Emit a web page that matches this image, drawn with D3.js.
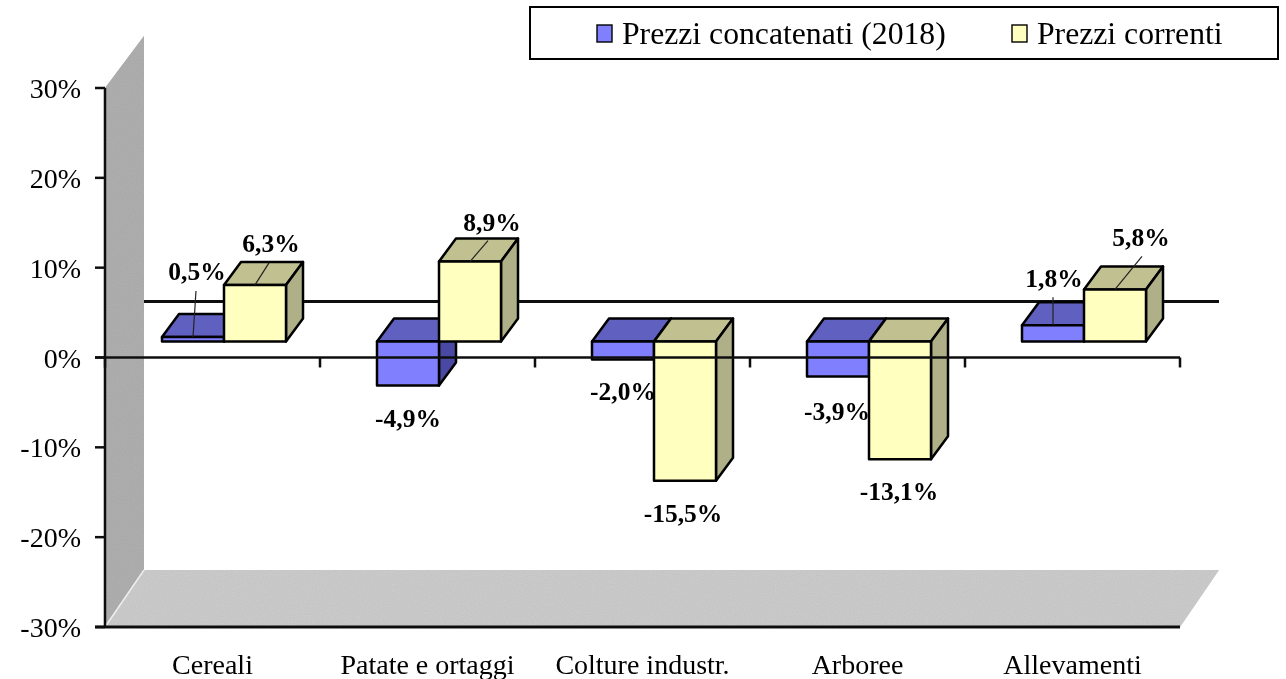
<!DOCTYPE html>
<html><head><meta charset="utf-8">
<script src="https://cdnjs.cloudflare.com/ajax/libs/d3/7.8.5/d3.min.js"></script>
<style>html,body{margin:0;background:#fff}svg{display:block}text{font-family:"Liberation Serif",serif;fill:#000}</style>
</head><body><div id="c"></div>
<script>
const categories=["Cereali","Patate e ortaggi","Colture industr.","Arboree","Allevamenti"];
const seriesNames=["Prezzi concatenati (2018)","Prezzi correnti"];
const concatenati=[0.5,-4.9,-2.0,-3.9,1.8];
const correnti=[6.3,8.9,-15.5,-13.1,5.8];
const yTicks=[30,20,10,0,-10,-20,-30];

const W=1286,H=679;
const root=d3.select("#c").append("svg").attr("width",W).attr("height",H);
const y=d3.scaleLinear().domain([-30,30]).range([627,88]);
const x=d3.scaleBand().domain(categories).range([105,1180]);
const fmt=v=>v.toFixed(1).replace(".",",")+"%";
const depth={wallX:39,wallTop:-52,floorY:-57,barBase:-16,barX:17,barY:-23};

const defs=root.append("defs");
const f=defs.append("filter").attr("id","grain").attr("x",0).attr("y",0).attr("width","100%").attr("height","100%");
f.append("feTurbulence").attr("type","fractalNoise").attr("baseFrequency",0.9).attr("numOctaves",1).attr("seed",3).attr("result","n");
f.append("feColorMatrix").attr("in","n").attr("type","matrix").attr("values","0 0 0 0 0  0 0 0 0 0  0 0 0 0 0  0 0 0 0.16 0").attr("result","a");
f.append("feComposite").attr("in","a").attr("in2","SourceGraphic").attr("operator","atop").attr("result","b");
f.append("feMerge").selectAll("feMergeNode").data(["SourceGraphic","b"]).join("feMergeNode").attr("in",d=>d);
const soft=defs.append("filter").attr("id","soft").attr("filterUnits","userSpaceOnUse").attr("x",0).attr("y",0).attr("width",W).attr("height",H);
soft.append("feGaussianBlur").attr("stdDeviation",0.45);

const svg=root.append("g").attr("filter","url(#soft)");
const x0=x.range()[0],x1=x.range()[1],yT=y(30),yB=y(-30),yZ=y(0);
const poly=(pts,fill)=>svg.append("polygon").attr("points",pts.map(p=>p.join(",")).join(" ")).attr("fill",fill);
poly([[x0,yT],[x0+depth.wallX,yT+depth.wallTop],[x0+depth.wallX,yB+depth.floorY],[x0,yB]],"#b2b2b2").attr("filter","url(#grain)");
poly([[x0,yB],[x0+depth.wallX,yB+depth.floorY],[x1+depth.wallX,yB+depth.floorY],[x1,yB]],"#cfcfcf").attr("filter","url(#grain)");
svg.append("line").attr("x1",x0).attr("y1",yB).attr("x2",x0+depth.wallX).attr("y2",yB+depth.floorY).attr("stroke","#eee").attr("stroke-width",1.5);

// back-plane zero line
svg.append("line").attr("x1",x0+depth.wallX).attr("x2",x1+depth.wallX).attr("y1",yZ-56).attr("y2",yZ-56).attr("stroke","#111").attr("stroke-width",3);

// axes
const ax=svg.append("g").attr("stroke","#111").attr("stroke-width",2.5);
ax.append("line").attr("x1",x0).attr("x2",x0).attr("y1",yT).attr("y2",yB);
ax.selectAll(".yt").data(yTicks).join("line").attr("x1",x0-10).attr("x2",x0).attr("y1",d=>y(d)).attr("y2",d=>y(d));
ax.append("line").attr("x1",x0-10).attr("x2",x1).attr("y1",yB).attr("y2",yB).attr("stroke-width",3);
const xTickPos=categories.map(c=>x(c)).concat([x1]);
ax.selectAll(".xt").data(xTickPos).join("line").attr("x1",d=>d).attr("x2",d=>d).attr("y1",yZ).attr("y2",yZ+10);

svg.selectAll(".yl").data(yTicks).join("text").attr("x",81).attr("y",d=>y(d)+10).attr("text-anchor","end").attr("font-size",28).text(d=>d+"%");
svg.selectAll(".cl").data(categories).join("text").attr("x",c=>x(c)+x.bandwidth()/2).attr("y",674).attr("text-anchor","middle").attr("font-size",28).text(c=>c);

// bars
const barW=62;
const styles=[{front:"#8080ff",top:"#6060c0",side:"#4a4aa4"},{front:"#ffffc0",top:"#c0c090",side:"#b0b088"}];
function poly2(g,pts,fill){g.append("polygon").attr("points",pts.map(p=>p.join(",")).join(" ")).attr("fill",fill).attr("stroke-linejoin","round");}
function bar(cx,v,s){
  const yv=y(v)+depth.barBase,yb=y(0)+depth.barBase;
  const t=Math.min(yv,yb),b=Math.max(yv,yb),l=cx,r=cx+barW,dx=depth.barX,dy=depth.barY;
  const g=svg.append("g").attr("stroke","#000").attr("stroke-width",2.5);
  poly2(g,[[l,t],[l+dx,t+dy],[r+dx,t+dy],[r,t]],s.top);
  poly2(g,[[r,t],[r+dx,t+dy],[r+dx,b+dy],[r,b]],s.side);
  poly2(g,[[l,t],[r,t],[r,b],[l,b]],s.front);
}
const barStart=c=>x(c)+x.bandwidth()/2+11.5-barW;
categories.forEach((c,i)=>{
  bar(barStart(c),concatenati[i],styles[0]);
  bar(barStart(c)+barW,correnti[i],styles[1]);
});
// the zero axis runs over the bars
ax.raise();
svg.append("line").attr("x1",x0-10).attr("x2",x1).attr("y1",yZ).attr("y2",yZ).attr("stroke","#111").attr("stroke-width",2.5);

// data labels
const labelOffsets=[[[4,-57],[16,-33]],[[0,41],[22,-31]],[[0,41],[-2,41]],[[-1,43],[-1,41]],[[1,-38],[26,-43]]];
const leaders=[[[3,-46],[14,-22]],[null,[18,-21]],[null,null],[null,null],[[0,-28],[27,-33]]];
[concatenati,correnti].forEach((vals,k)=>{
  vals.forEach((v,i)=>{
    const cx=barStart(categories[i])+barW*k+barW/2, base=y(v)+depth.barBase;
    const lead=leaders[i][k];
    if(lead) svg.append("line").attr("x1",cx).attr("y1",base).attr("x2",cx+lead[0]).attr("y2",base+lead[1]).attr("stroke","#222").attr("stroke-width",1.2);
    const o=labelOffsets[i][k];
    svg.append("text").attr("x",cx+o[0]).attr("y",base+o[1]).attr("text-anchor","middle").attr("font-size",25.5).attr("font-weight","bold").text(fmt(v));
  });
});

// legend
svg.append("rect").attr("x",530).attr("y",7).attr("width",748).attr("height",52).attr("fill","#fff").attr("stroke","#000").attr("stroke-width",2);
const lx=[597,1012];
seriesNames.forEach((n,i)=>{
  svg.append("rect").attr("x",lx[i]).attr("y",25).attr("width",15).attr("height",17).attr("fill",styles[i].front).attr("stroke","#000").attr("stroke-width",1.4);
  svg.append("text").attr("x",lx[i]+25).attr("y",44).attr("font-size",31.7).text(n);
});
</script></body></html>
